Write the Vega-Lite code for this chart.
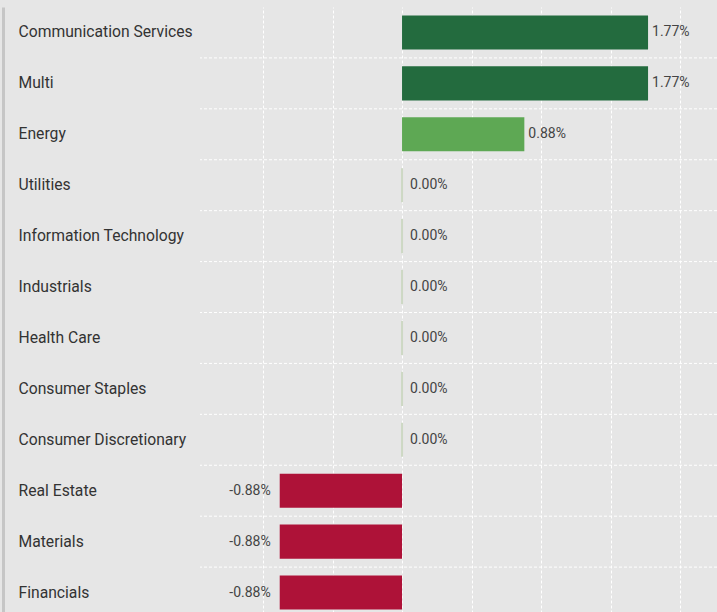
{
  "$schema": "https://vega.github.io/schema/vega-lite/v6.json",
  "autosize": "none",
  "width": 517,
  "height": 611,
  "padding": {"left": 200, "top": 7, "right": 0, "bottom": 0},
  "background": "#e6e6e6",
  "config": {
    "view": {"stroke": null},
    "font": "Roboto"
  },
  "data": {
    "values": [
      {"sector": "Communication Services", "value": 0.0177, "color": "#236b3e"},
      {"sector": "Multi", "value": 0.0177, "color": "#236b3e"},
      {"sector": "Energy", "value": 0.0088, "color": "#5ea854"},
      {"sector": "Utilities", "value": 0.0, "color": "#cdd8c4"},
      {"sector": "Information Technology", "value": 0.0, "color": "#cdd8c4"},
      {"sector": "Industrials", "value": 0.0, "color": "#cdd8c4"},
      {"sector": "Health Care", "value": 0.0, "color": "#cdd8c4"},
      {"sector": "Consumer Staples", "value": 0.0, "color": "#cdd8c4"},
      {"sector": "Consumer Discretionary", "value": 0.0, "color": "#cdd8c4"},
      {"sector": "Real Estate", "value": -0.0088, "color": "#ae1238"},
      {"sector": "Materials", "value": -0.0088, "color": "#ae1238"},
      {"sector": "Financials", "value": -0.0088, "color": "#ae1238"}
    ]
  },
  "transform": [
    {"calculate": "replace(format(datum.value, '.2%'), '\u2212', '-')", "as": "label"}
  ],
  "encoding": {
    "y": {
      "field": "sector",
      "type": "nominal",
      "sort": null,
      "scale": {"paddingInner": 0, "paddingOuter": 0},
      "axis": {
        "title": null,
        "orient": "left",
        "offset": 197,
        "domain": true,
        "domainColor": "#c6c6c6",
        "domainWidth": 3,
        "ticks": false,
        "tickSize": 0,
        "grid": false,
        "labelAlign": "left",
        "labelPadding": -15,
        "labelFont": "Roboto",
        "labelFontSize": 15.7,
        "labelColor": "#333333",
        "labelLimit": 300
      }
    }
  },
  "layer": [
    {
      "mark": {"type": "rule", "color": "#ffffff", "strokeWidth": 1, "strokeDash": [3, 2]},
      "encoding": {
        "y": {"field": "sector", "type": "nominal", "sort": null, "bandPosition": 1}
      }
    },
    {
      "mark": {"type": "bar", "height": {"band": 0.67}, "strokeWidth": 2},
      "encoding": {
        "x": {
          "field": "value",
          "type": "quantitative",
          "scale": {"domain": [-0.014535, 0.02266], "nice": false, "zero": false},
          "axis": {
            "title": null,
            "labels": false,
            "ticks": false,
            "domain": false,
            "values": [-0.01, -0.005, 0, 0.005, 0.01, 0.015, 0.02],
            "grid": true,
            "gridColor": "#ffffff",
            "gridDash": [3, 2],
            "gridWidth": 1,
            "gridOpacity": 1
          }
        },
        "fill": {"field": "color", "type": "nominal", "scale": null},
        "stroke": {"condition": {"test": "datum.value == 0", "value": "#cdd8c4"}, "value": null}
      }
    },
    {
      "transform": [{"filter": "datum.value > 0"}],
      "mark": {"type": "text", "align": "left", "baseline": "middle", "dx": 4, "fontSize": 14, "color": "#444444"},
      "encoding": {
        "x": {"field": "value", "type": "quantitative"},
        "text": {"field": "label", "type": "nominal"}
      }
    },
    {
      "transform": [{"filter": "datum.value == 0"}],
      "mark": {"type": "text", "align": "left", "baseline": "middle", "dx": 8, "fontSize": 14, "color": "#444444"},
      "encoding": {
        "x": {"field": "value", "type": "quantitative"},
        "text": {"field": "label", "type": "nominal"}
      }
    },
    {
      "transform": [{"filter": "datum.value < 0"}],
      "mark": {"type": "text", "align": "right", "baseline": "middle", "dx": -9, "fontSize": 14, "color": "#444444"},
      "encoding": {
        "x": {"field": "value", "type": "quantitative"},
        "text": {"field": "label", "type": "nominal"}
      }
    }
  ]
}
